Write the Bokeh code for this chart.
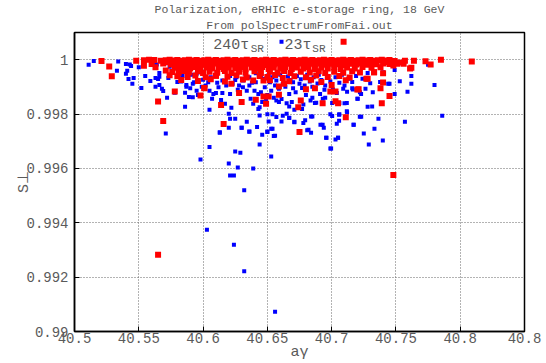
from bokeh.plotting import figure
from bokeh.models import FixedTicker, Label, Title, Range1d, ColumnDataSource
from bokeh.embed import file_html
from bokeh.resources import INLINE

# ---------------- data ----------------
x_ticks = [40.5, 40.55, 40.6, 40.65, 40.7, 40.75, 40.8, 40.85]
x_tick_labels = ["40.5", "40.55", "40.6", "40.65", "40.7", "40.75", "40.8", "40.8"]
y_ticks = [0.99, 0.992, 0.994, 0.996, 0.998, 1.0]
y_tick_labels = ["0.99", "0.992", "0.994", "0.996", "0.998", "1"]

series_names = ["240\u03c4", "23\u03c4"]

# 240 tau_SR (blue)
blue_left = [
    (40.511, 0.99981), (40.515, 0.99995), (40.534, 0.99993), (40.533, 0.99959),
    (40.540, 0.99984), (40.543, 0.99982), (40.544, 0.99977), (40.541, 0.99959),
    (40.540, 0.99948), (40.542, 0.99929), (40.546, 0.99933), (40.545, 0.99911),
    (40.550, 0.99972), (40.552, 0.99896), (40.555, 0.99940), (40.559, 0.99922),
    (40.563, 0.99933), (40.563, 0.99900), (40.566, 0.99951), (40.566, 0.99937),
    (40.565, 0.99929), (40.566, 0.99907), (40.568, 0.99893), (40.569, 0.99885),
    (40.572, 0.99860), (40.571, 0.99728), (40.573, 0.99933), (40.574, 0.99974),
    (40.580, 0.99918), (40.578, 0.99878), (40.581, 0.99944), (40.584, 0.99940),
    (40.586, 0.99878), (40.587, 0.99907), (40.587, 0.99900), (40.586, 0.99827),
    (40.589, 0.99863), (40.589, 0.99948), (40.561, 0.99988), (40.564, 0.99982),
]
blue_mid = [
    (40.591, 0.99945), (40.592, 0.99911), (40.593, 0.99917), (40.595, 0.99948),
    (40.597, 0.99954), (40.600, 0.99926), (40.602, 0.99905), (40.604, 0.99917),
    (40.605, 0.99886), (40.607, 0.99856), (40.610, 0.99877), (40.612, 0.99899),
    (40.615, 0.99877), (40.614, 0.99852), (40.617, 0.99838), (40.621, 0.99874),
    (40.622, 0.99823), (40.620, 0.99801), (40.621, 0.99783), (40.625, 0.99783),
    (40.605, 0.99816), (40.613, 0.99733), (40.620, 0.99750), (40.634, 0.99772),
    (40.630, 0.99750), (40.636, 0.99735), (40.642, 0.99752), (40.646, 0.99724),
    (40.644, 0.99688), (40.650, 0.99734), (40.654, 0.99746), (40.656, 0.99720),
    (40.651, 0.99773), (40.650, 0.99799), (40.654, 0.99799), (40.657, 0.99789),
    (40.661, 0.99773), (40.665, 0.99801), (40.667, 0.99785), (40.671, 0.99770),
    (40.678, 0.99767), (40.677, 0.99819), (40.671, 0.99816), (40.667, 0.99828),
    (40.669, 0.99844), (40.665, 0.99840), (40.659, 0.99844), (40.657, 0.99850),
    (40.649, 0.99850), (40.646, 0.99844), (40.644, 0.99825), (40.644, 0.99795),
    (40.643, 0.99819), (40.639, 0.99838), (40.637, 0.99856), (40.634, 0.99886),
    (40.631, 0.99899), (40.627, 0.99889), (40.623, 0.99911), (40.636, 0.99905),
    (40.640, 0.99886), (40.643, 0.99874), (40.648, 0.99899), (40.653, 0.99886),
    (40.659, 0.99893), (40.667, 0.99874), (40.672, 0.99880), (40.677, 0.99896),
    (40.592, 0.99862), (40.595, 0.99886), (40.608, 0.99874), (40.615, 0.99923),
    (40.626, 0.99935), (40.631, 0.99923), (40.636, 0.99935), (40.641, 0.99917),
    (40.652, 0.99917), (40.657, 0.99923), (40.662, 0.99911), (40.670, 0.99917),
    (40.675, 0.99911), (40.613, 0.99731), (40.636, 0.99736), (40.630, 0.99750),
]
blue_dense = [
    (40.641, 0.99950), (40.645, 0.99940), (40.648, 0.99930), (40.651, 0.99944),
    (40.654, 0.99935), (40.656, 0.99905), (40.660, 0.99945), (40.662, 0.99930),
    (40.664, 0.99900), (40.666, 0.99938), (40.668, 0.99925), (40.670, 0.99895),
    (40.673, 0.99940), (40.676, 0.99928), (40.679, 0.99905), (40.681, 0.99945),
    (40.683, 0.99920), (40.685, 0.99900), (40.686, 0.99935), (40.689, 0.99912),
    (40.690, 0.99945), (40.692, 0.99925), (40.695, 0.99905), (40.697, 0.99940),
    (40.699, 0.99920), (40.701, 0.99890), (40.703, 0.99935), (40.706, 0.99915),
    (40.708, 0.99945), (40.710, 0.99905), (40.713, 0.99930), (40.716, 0.99918),
    (40.719, 0.99940), (40.621, 0.99940), (40.618, 0.99905), (40.625, 0.99925),
    (40.628, 0.99905), (40.633, 0.99945), (40.638, 0.99915), (40.645, 0.99880),
    (40.650, 0.99870), (40.655, 0.99860), (40.661, 0.99855), (40.680, 0.99870),
    (40.685, 0.99860), (40.695, 0.99860), (40.611, 0.99915), (40.606, 0.99935),
    (40.599, 0.99900), (40.596, 0.99870), (40.583, 0.99920), (40.590, 0.99895),
]
blue_right = [
    (40.7364, 0.99783), (40.7333, 0.99746), (40.7398, 0.99703), (40.7289, 0.99688),
    (40.7250, 0.99728), (40.7172, 0.99761), (40.7219, 0.99790), (40.7118, 0.99810),
    (40.7058, 0.99797), (40.7058, 0.99775), (40.7040, 0.99764), (40.7004, 0.99793),
    (40.6996, 0.99673), (40.7050, 0.99713), (40.6957, 0.99713), (40.6939, 0.99750),
    (40.6913, 0.99761), (40.6840, 0.99791), (40.6794, 0.99777), (40.6820, 0.99742),
    (40.6840, 0.99731), (40.7570, 0.99772), (40.7590, 0.99882), (40.7620, 0.99911),
    (40.7620, 0.99940), (40.7490, 0.99874), (40.7530, 0.99921), (40.7440, 0.99911),
    (40.7377, 0.99918), (40.7315, 0.99828), (40.7203, 0.99856), (40.7229, 0.99874),
    (40.7263, 0.99893), (40.7165, 0.99890), (40.7118, 0.99841), (40.7060, 0.99841),
    (40.7004, 0.99841), (40.6870, 0.99841), (40.6836, 0.99850), (40.6931, 0.99856),
    (40.6910, 0.99874), (40.6944, 0.99889), (40.7090, 0.99893), (40.7040, 0.99877),
    (40.7120, 0.99882), (40.780, 0.99907), (40.786, 0.99794), (40.775, 0.99981),
    (40.745, 0.99911), (40.728, 0.99827), (40.732, 0.99880), (40.730, 0.99913),
    (40.722, 0.99880), (40.720, 0.99856), (40.723, 0.99790), (40.717, 0.99761),
    (40.712, 0.99807), (40.710, 0.99840), (40.705, 0.99713), (40.703, 0.99706),
    (40.699, 0.99673), (40.696, 0.99713), (40.693, 0.99761), (40.681, 0.99740),
    (40.671, 0.99772), (40.667, 0.99786), (40.662, 0.99794), (40.653, 0.99746),
    (40.655, 0.99719), (40.650, 0.99736), (40.685, 0.99791), (40.678, 0.99835),
    (40.688, 0.99842), (40.699, 0.99799), (40.706, 0.99799), (40.716, 0.99895),
    (40.724, 0.99930), (40.728, 0.99951), (40.740, 0.99954), (40.749, 0.99962),
]
blue_low = [
    (40.605, 0.99679), (40.598, 0.99633), (40.625, 0.99662), (40.629, 0.99658),
    (40.620, 0.99618), (40.627, 0.99603), (40.639, 0.99600), (40.621, 0.99574),
    (40.624, 0.99574), (40.632, 0.99520), (40.653, 0.99644), (40.624, 0.99319),
    (40.632, 0.99222), (40.656, 0.99073), (40.603, 0.99374),
]

# 23 tau_SR (red)
red_top = [
    (40.548, 0.99996), (40.554, 0.99998), (40.558, 1.00000), (40.562, 0.99999),
    (40.567, 0.99996), (40.571, 0.99998), (40.574, 1.00000), (40.577, 0.99997),
    (40.580, 0.99999), (40.583, 0.99996), (40.586, 0.99998), (40.589, 1.00000),
    (40.592, 0.99997), (40.595, 0.99999), (40.598, 0.99996), (40.601, 0.99998),
    (40.604, 1.00000), (40.607, 0.99997), (40.610, 0.99999), (40.613, 0.99996),
    (40.616, 0.99998), (40.619, 1.00000), (40.622, 0.99997), (40.625, 0.99999),
    (40.628, 0.99996), (40.631, 0.99998), (40.634, 1.00000), (40.637, 0.99997),
    (40.640, 0.99999), (40.643, 0.99996), (40.646, 0.99998), (40.649, 1.00000),
    (40.652, 0.99997), (40.655, 0.99999), (40.658, 0.99996), (40.661, 0.99998),
    (40.664, 1.00000), (40.667, 0.99997), (40.670, 0.99999), (40.673, 0.99996),
    (40.676, 0.99998), (40.679, 1.00000), (40.682, 0.99997), (40.685, 0.99999),
    (40.688, 0.99996), (40.691, 0.99998), (40.694, 1.00000), (40.697, 0.99997),
    (40.700, 0.99999), (40.703, 0.99996), (40.706, 0.99998), (40.709, 1.00000),
    (40.712, 0.99997), (40.715, 0.99999), (40.718, 0.99996), (40.721, 0.99998),
    (40.724, 1.00000), (40.727, 0.99997), (40.730, 0.99999), (40.733, 0.99996),
    (40.736, 0.99998), (40.739, 1.00000), (40.742, 0.99997), (40.745, 0.99999),
    (40.749, 0.99995), (40.753, 0.99990), (40.757, 0.99996), (40.764, 0.99996),
    (40.773, 0.99994), (40.785, 1.00000), (40.809, 0.99993), (40.521, 0.99995),
]
red_band = [
    (40.554, 0.99978), (40.560, 0.99984), (40.569, 0.99986), (40.575, 0.99982),
    (40.579, 0.99986), (40.583, 0.99980), (40.587, 0.99985), (40.591, 0.99982),
    (40.595, 0.99986), (40.599, 0.99981), (40.603, 0.99985), (40.607, 0.99983),
    (40.611, 0.99986), (40.615, 0.99980), (40.619, 0.99985), (40.623, 0.99982),
    (40.627, 0.99986), (40.631, 0.99981), (40.635, 0.99985), (40.639, 0.99983),
    (40.643, 0.99986), (40.647, 0.99980), (40.651, 0.99985), (40.655, 0.99982),
    (40.659, 0.99986), (40.663, 0.99981), (40.667, 0.99985), (40.671, 0.99983),
    (40.675, 0.99986), (40.679, 0.99980), (40.683, 0.99985), (40.687, 0.99982),
    (40.691, 0.99986), (40.695, 0.99981), (40.699, 0.99985), (40.703, 0.99983),
    (40.707, 0.99986), (40.711, 0.99980), (40.715, 0.99985), (40.719, 0.99982),
    (40.723, 0.99986), (40.727, 0.99981), (40.731, 0.99985), (40.735, 0.99983),
    (40.740, 0.99986), (40.745, 0.99984), (40.751, 0.99985), (40.756, 0.99985),
    (40.777, 0.99982), (40.527, 0.99975), (40.529, 0.99939),
    (40.563, 0.99972), (40.571, 0.99960), (40.578, 0.99970), (40.582, 0.99966),
    (40.586, 0.99972), (40.590, 0.99968), (40.594, 0.99973), (40.598, 0.99966),
    (40.603, 0.99971), (40.607, 0.99968), (40.612, 0.99973), (40.616, 0.99966),
    (40.620, 0.99971), (40.625, 0.99968), (40.629, 0.99973), (40.633, 0.99966),
    (40.638, 0.99971), (40.642, 0.99968), (40.646, 0.99973), (40.651, 0.99966),
    (40.655, 0.99971), (40.660, 0.99968), (40.664, 0.99973), (40.669, 0.99966),
    (40.673, 0.99971), (40.678, 0.99968), (40.682, 0.99973), (40.687, 0.99966),
    (40.692, 0.99971), (40.697, 0.99968), (40.702, 0.99973), (40.707, 0.99966),
    (40.712, 0.99971), (40.718, 0.99968), (40.724, 0.99973), (40.731, 0.99970),
    (40.738, 0.99972), (40.748, 0.99979), (40.762, 0.99970),
    (40.576, 0.99955), (40.581, 0.99952), (40.585, 0.99958), (40.589, 0.99953),
    (40.596, 0.99957), (40.600, 0.99951), (40.605, 0.99956), (40.611, 0.99952),
    (40.617, 0.99958), (40.622, 0.99951), (40.628, 0.99956), (40.633, 0.99953),
    (40.640, 0.99957), (40.645, 0.99951), (40.652, 0.99956), (40.658, 0.99952),
    (40.663, 0.99958), (40.668, 0.99951), (40.676, 0.99956), (40.683, 0.99953),
    (40.690, 0.99957), (40.695, 0.99951), (40.702, 0.99956), (40.709, 0.99952),
    (40.716, 0.99957), (40.722, 0.99953), (40.733, 0.99954), (40.740, 0.99950),
    (40.574, 0.99943), (40.580, 0.99939), (40.588, 0.99936), (40.594, 0.99942),
    (40.602, 0.99935), (40.610, 0.99941), (40.619, 0.99937), (40.626, 0.99943),
    (40.634, 0.99934), (40.644, 0.99940), (40.650, 0.99936), (40.656, 0.99944),
    (40.662, 0.99933), (40.671, 0.99939), (40.680, 0.99935), (40.688, 0.99942),
    (40.697, 0.99936), (40.706, 0.99940), (40.714, 0.99934), (40.727, 0.99930),
    (40.572, 0.99991), (40.584, 0.99990), (40.597, 0.99991), (40.609, 0.99990),
    (40.621, 0.99991), (40.633, 0.99990), (40.645, 0.99991), (40.657, 0.99990),
    (40.669, 0.99991), (40.681, 0.99990), (40.693, 0.99991), (40.705, 0.99990),
    (40.717, 0.99991), (40.729, 0.99990), (40.741, 0.99991),
    (40.583, 0.99925), (40.596, 0.99922), (40.606, 0.99928), (40.617, 0.99920),
    (40.631, 0.99927), (40.652, 0.99924), (40.667, 0.99921), (40.684, 0.99926),
    (40.692, 0.99918), (40.711, 0.99924),
]
red_scatter = [
    (40.565, 0.99846), (40.569, 0.99774), (40.578, 0.99883), (40.598, 0.99868),
    (40.601, 0.99895), (40.616, 0.99763), (40.614, 0.99833), (40.630, 0.99844),
    (40.641, 0.99853), (40.628, 0.99877), (40.675, 0.99734), (40.711, 0.99788),
    (40.748, 0.99576), (40.745, 0.99866), (40.739, 0.99840), (40.738, 0.99895),
    (40.721, 0.99891), (40.705, 0.99840), (40.703, 0.99847), (40.693, 0.99840),
    (40.674, 0.99825), (40.703, 0.99883), (40.700, 0.99907), (40.728, 0.99930),
    (40.720, 0.99890), (40.687, 0.99895), (40.680, 0.99891), (40.699, 0.99883),
    (40.740, 0.99916), (40.733, 0.99954), (40.761, 0.99968), (40.565, 0.99282),
    (40.601, 0.99896), (40.647, 0.99865), (40.651, 0.99865), (40.649, 0.99838),
    (40.659, 0.99901), (40.659, 0.99871), (40.676, 0.99850), (40.663, 0.99911),
    (40.622, 0.99911), (40.610, 0.99941), (40.639, 0.99923), (40.647, 0.99923),
]

blue_pts = blue_left + blue_mid + blue_dense + blue_right + blue_low
red_pts = red_top + red_band + red_scatter
blue_x = [p[0] for p in blue_pts]
blue_y = [p[1] for p in blue_pts]
red_x = [p[0] for p in red_pts]
red_y = [p[1] for p in red_pts]

# ---------------- figure ----------------
MONO = "Liberation Mono"
GRAY = "#5a5a5a"

p = figure(width=546, height=363, output_backend="svg", toolbar_location=None,
           title=None, x_range=Range1d(40.5, 40.85), y_range=Range1d(0.99, 1.001),
           min_border_left=74, min_border_right=22, min_border_top=4, min_border_bottom=31,
           background_fill_color="white", border_fill_color="white")

p.add_layout(Title(text="From polSpectrumFromFai.out", align="center", text_font=MONO,
                   text_font_size="11.5px", text_font_style="normal", text_color=GRAY,
                   standoff=2, offset=6), "above")
p.add_layout(Title(text="Polarization, eRHIC e-storage ring, 18 GeV", align="center",
                   text_font=MONO, text_font_size="11.5px", text_font_style="normal",
                   text_color=GRAY, standoff=0, offset=4), "above")

p.outline_line_color = "black"
p.outline_line_width = 1.5
p.outline_line_alpha = 1.0

for ax in (p.xaxis[0], p.yaxis[0]):
    ax.axis_line_color = "black"
    ax.axis_line_width = 1.5
    ax.major_tick_in = 5
    ax.major_tick_out = 0
    ax.major_tick_line_color = "black"
    ax.minor_tick_line_color = None
    ax.major_label_text_font = MONO
    ax.major_label_text_font_size = "14px"
    ax.major_label_text_color = GRAY
    ax.axis_label_text_font = MONO
    ax.axis_label_text_font_size = "15px"
    ax.axis_label_text_font_style = "normal"
    ax.axis_label_text_color = GRAY

p.xaxis.ticker = FixedTicker(ticks=x_ticks)
p.yaxis.ticker = FixedTicker(ticks=y_ticks)
p.xaxis.major_label_overrides = dict(zip(x_ticks, x_tick_labels))
p.yaxis.major_label_overrides = dict(zip(y_ticks, y_tick_labels))
p.xaxis.axis_label = "a\u03b3"
p.yaxis.axis_label = "S\u22a5"
p.xaxis.major_label_standoff = 1
p.xaxis.axis_label_standoff = -2
p.yaxis.major_label_standoff = 6
p.yaxis.axis_label_standoff = -10

p.grid.grid_line_color = "#666666"
p.grid.grid_line_dash = "1 2"
p.grid.grid_line_width = 1

src_b = ColumnDataSource(dict(x=blue_x, y=blue_y))
src_r = ColumnDataSource(dict(x=red_x, y=red_y))
p.scatter("x", "y", source=src_b, marker="square", size=4, fill_color="#0000ff",
          line_color=None)
p.scatter("x", "y", source=src_r, marker="square", size=6, fill_color="#ff0000",
          line_color=None)

# key (gnuplot style: title then sample)
key_y = 1.00051
key_sample_y = 1.00066
for name, lx, sx, sub_x in ((series_names[0], 40.608, 40.661, 40.637),
                            (series_names[1], 40.6634, 40.7093, 40.685)):
    p.add_layout(Label(x=lx, y=key_y, text=name, text_font=MONO, text_font_size="15px",
                       text_color=GRAY, text_baseline="alphabetic"))
    p.add_layout(Label(x=sub_x, y=key_y - 0.00011, text="SR", text_font=MONO,
                       text_font_size="11px", text_color=GRAY, text_baseline="alphabetic"))
key_src = ColumnDataSource(dict(x=[40.661, 40.7093], y=[key_sample_y, key_sample_y],
                                c=["#0000ff", "#ff0000"], s=[4, 6]))
p.scatter("x", "y", source=key_src, marker="square", size="s", fill_color="c",
          line_color=None)

open("out.html", "w").write(file_html(p, INLINE))
